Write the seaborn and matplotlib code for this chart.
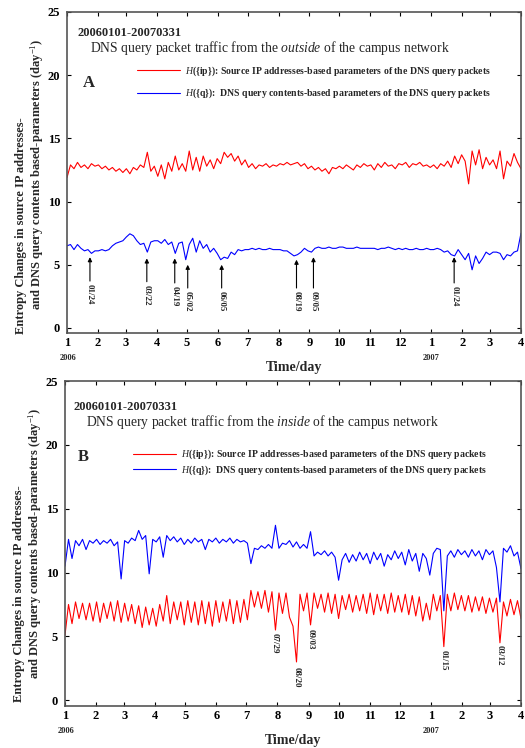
import numpy as np
import pandas as pd
import matplotlib
matplotlib.use("Agg")
import matplotlib.pyplot as plt
import seaborn as sns

# samples every 3.5 days from 2006-01-01 to 2007-03-31
a_ip = [11.9, 12.9, 12.6, 13.1, 12.7, 12.9, 12.6, 13.0, 12.8,
        12.9, 12.6, 12.8, 12.5, 12.7, 12.4, 12.6, 12.3,
        12.6, 12.2, 12.7, 12.5, 12.9, 12.7, 13.9, 12.4, 12.8,
        12.0, 12.9, 11.8, 13.1, 12.4, 13.6, 12.5, 13.0, 12.4,
        14.0, 12.5, 13.5, 12.4, 13.6, 12.8, 13.3, 12.6, 13.4,
        13.0, 13.9, 13.5, 13.8, 13.2, 13.6, 12.9, 13.3,
        12.7, 13.0, 12.6, 12.9, 12.8, 13.0, 12.7, 12.9, 12.8,
        13.0, 12.9, 13.1, 12.9, 13.0, 13.1, 12.8, 13.0, 12.6,
        12.8, 12.5, 12.7, 12.4, 12.6, 12.2, 12.7, 12.6,
        12.8, 12.6, 12.9, 12.7, 12.5, 12.9, 12.7, 13.0, 12.8,
        12.9, 12.5, 13.0, 12.7, 13.1, 12.8, 12.9, 12.6, 13.0,
        12.9, 13.1, 12.7, 13.0, 12.9, 13.1, 12.8, 12.9, 12.7,
        12.9, 12.6, 13.0, 12.8, 13.2, 12.7, 13.6, 13.0, 13.7,
        13.2, 11.4, 14.0, 12.9, 14.1, 12.6, 13.5, 12.9,
        13.3, 12.6, 14.0, 11.8, 13.2, 12.8, 13.8, 13.1, 12.6]

a_q = [6.5, 6.6, 6.2, 6.6, 6.3, 6.1, 6.2, 5.9, 6.1,
       6.1, 6.2, 6.1, 6.2, 6.5, 6.7, 6.8, 6.9,
       7.2, 7.45, 7.3, 6.9, 6.6, 6.7, 6.0, 6.8, 6.9,
       6.9, 6.7, 7.0, 6.6, 6.8, 5.9, 6.7, 6.8, 5.4,
       6.6, 7.1, 6.0, 6.9, 6.3, 6.6, 6.0, 6.3, 5.9,
       5.4, 5.6, 5.5, 6.0, 5.8, 6.2, 6.1, 6.2,
       6.2, 6.3, 6.2, 6.3, 6.2, 6.2, 6.3, 6.2, 6.2,
       6.2, 6.1, 6.1, 5.9, 5.7, 5.8, 6.0, 6.3, 6.1,
       6.0, 6.3, 6.4, 6.3, 6.3, 6.4, 6.3, 6.3,
       6.4, 6.4, 6.3, 6.3, 6.3, 6.4, 6.3, 6.3, 6.3,
       6.3, 6.3, 6.2, 6.3, 6.3, 6.4, 6.3, 6.2, 6.3,
       6.2, 6.3, 6.2, 6.2, 6.3, 6.2, 6.2, 6.3, 6.2,
       6.2, 6.3, 6.2, 6.0, 6.1, 5.8, 5.7, 6.2, 5.8,
       5.4, 5.9, 4.6, 5.7, 5.1, 5.5, 6.0, 5.8,
       6.0, 6.0, 5.9, 5.4, 5.8, 5.7, 6.0, 6.1, 7.5]

b_ip = [5.1, 7.5, 6.0, 7.7, 6.4, 7.6, 6.3, 7.6, 6.2,
        7.7, 6.1, 7.6, 6.4, 7.7, 6.2, 7.8, 6.1,
        7.6, 6.2, 7.5, 6.0, 7.4, 5.7, 7.3, 5.9, 7.2,
        5.8, 7.5, 6.2, 8.2, 6.0, 7.7, 6.3, 7.7, 5.9,
        7.8, 6.1, 7.7, 5.9, 7.8, 6.0, 7.7, 5.8, 7.8,
        6.1, 7.7, 6.2, 7.9, 6.0, 7.8, 6.1, 7.9,
        6.3, 8.6, 7.3, 8.5, 7.2, 8.6, 6.9, 8.5, 5.5,
        8.4, 6.8, 8.4, 6.5, 5.8, 3.0, 8.3, 7.0, 8.4,
        5.9, 8.4, 7.2, 8.3, 6.9, 8.4, 6.8, 8.3,
        6.4, 8.2, 7.1, 8.3, 6.9, 8.2, 7.0, 8.3, 6.8,
        8.4, 6.7, 8.3, 7.0, 8.3, 6.8, 8.4, 6.9, 8.2,
        6.9, 8.3, 6.7, 8.2, 6.6, 8.1, 6.2, 7.6, 6.3,
        8.3, 7.0, 8.2, 4.2, 8.3, 7.0, 8.4, 7.1, 8.2,
        7.0, 8.2, 6.9, 8.1, 7.0, 8.1, 6.8, 8.0,
        6.9, 8.0, 4.5, 7.7, 6.6, 7.9, 6.7, 7.8, 6.4]

b_q = [10.5, 12.6, 11.1, 12.5, 12.1, 12.6, 11.8, 12.5, 12.3,
       12.6, 12.2, 12.5, 12.3, 12.6, 12.1, 12.4, 9.5,
       12.5, 12.3, 12.7, 12.5, 13.3, 12.6, 12.9, 9.9, 12.6,
       12.4, 12.8, 11.2, 12.9, 12.5, 12.8, 12.4, 12.7, 12.2,
       12.6, 12.3, 12.7, 12.4, 12.6, 11.8, 12.6, 12.4, 12.7,
       12.3, 12.6, 12.4, 12.7, 12.3, 12.6, 12.4, 12.5,
       12.3, 10.7, 11.9, 11.8, 12.1, 11.9, 12.2, 11.9, 13.7,
       11.9, 12.3, 12.2, 12.5, 12.0, 12.4, 11.9, 12.2, 11.9,
       13.2, 11.3, 11.6, 11.4, 11.7, 11.3, 11.6, 11.2,
       9.4, 11.0, 11.5, 10.8, 11.4, 10.9, 11.6, 11.0, 11.5,
       10.7, 11.6, 11.0, 11.5, 10.5, 11.4, 11.0, 11.7, 11.1,
       11.6, 10.6, 11.8, 10.9, 11.5, 10.1, 11.5, 11.1, 9.8,
       11.5, 11.9, 11.8, 7.0, 11.3, 11.7, 11.2, 11.8, 11.4,
       11.7, 11.2, 11.8, 11.3, 11.7, 11.0, 11.8, 11.4,
       11.7, 10.4, 7.7, 11.9, 11.6, 12.1, 11.3, 11.6, 10.3]

month_start_days = [0, 31, 59, 90, 120, 151, 181, 212, 243, 273, 304, 334, 365, 396, 424, 455]
month_labels = ["1", "2", "3", "4", "5", "6", "7", "8", "9", "10", "11", "12", "1", "2", "3", "4"]

# arrows in panel A: (label, day, tip value, text top value)
a_events = [("01/24", 23, 5.6, 3.45), ("03/22", 80, 5.5, 3.4), ("04/19", 108, 5.5, 3.3),
            ("05/02", 121, 5.0, 2.9), ("06/05", 155, 5.0, 2.9), ("08/19", 230, 5.4, 2.9),
            ("09/05", 247, 5.6, 2.9), ("01/24", 388, 5.6, 3.3)]
# dates in panel B: (label, day, text top value)
b_events = [("07/29", 209, 5.25), ("08/20", 231, 2.6), ("09/03", 245, 5.6),
            ("01/15", 378, 3.9), ("03/12", 434, 4.3)]

lab_ip = r"$\mathit{H}$({ip}): Source IP addresses-based parameters of the DNS query packets"
lab_q = r"$\mathit{H}$({q}):  DNS query contents-based parameters of the DNS query packets"

sns.set_style("ticks")
plt.rcParams["font.family"] = ["Liberation Serif", "DejaVu Serif"]
plt.rcParams["mathtext.fontset"] = "custom"
plt.rcParams["mathtext.rm"] = "Liberation Serif"
plt.rcParams["mathtext.it"] = "Liberation Serif:italic"
plt.rcParams["mathtext.bf"] = "Liberation Serif:bold"

fig = plt.figure(figsize=(5.25, 7.48), dpi=100)
axA = fig.add_axes([67 / 525, 1 - 333 / 748, 454 / 525, 321 / 748])
axB = fig.add_axes([65 / 525, 42 / 748, 456 / 525, 325 / 748])


def draw_panel(ax, ip_vals, q_vals, where, letter, ylo, leg_xy, leg_space, title_xy):
    days = np.arange(len(ip_vals)) * 3.5
    df = pd.DataFrame({
        "day": np.concatenate([days, days]),
        "value": ip_vals + q_vals,
        "series": [lab_ip] * len(ip_vals) + [lab_q] * len(q_vals),
    })
    sns.lineplot(data=df, x="day", y="value", hue="series",
                 palette={lab_ip: "red", lab_q: "blue"}, lw=0.8,
                 errorbar=None, ax=ax)
    ax.set_xlim(0, 455)
    ax.set_ylim(ylo, 25)
    ax.set_xticks(month_start_days)
    ax.set_xticklabels(month_labels)
    ax.set_yticks([0, 5, 10, 15, 20, 25])
    ax.tick_params(direction="in", top=True, right=True, length=3, width=0.8,
                   labelsize=9, colors="black")
    ax.tick_params(axis="x", pad=3)
    ax.tick_params(axis="y", pad=5)
    for lab in ax.get_xticklabels() + ax.get_yticklabels():
        lab.set_fontweight("bold")
    for sp in ax.spines.values():
        sp.set_color("#555555")
        sp.set_linewidth(1.2)
    ax.set_ylabel("")
    ax.set_xlabel("Time/day", fontsize=10, fontweight="bold", va="center")
    ax.xaxis.set_label_coords(0.5, -0.106)

    for yr, d in [("2006", 1), ("2007", 365)]:
        ax.text(d, -0.078, yr, transform=ax.get_xaxis_transform(), ha="center",
                va="center", fontsize=6, fontweight="bold")

    handles, labels = ax.get_legend_handles_labels()
    ax.legend(handles, labels, loc="upper left", bbox_to_anchor=leg_xy, frameon=False,
              borderpad=0, borderaxespad=0, handlelength=4.4, handletextpad=0.5,
              labelspacing=leg_space, prop={"size": 7, "weight": "bold"})

    ax.text(title_xy[0], title_xy[1], "20060101-20070331", transform=ax.transAxes,
            ha="left", va="center", fontsize=9, fontweight="bold")
    ax.text(title_xy[0] + 0.027, title_xy[1] - 0.047,
            "DNS query packet traffic from the $\\mathit{" + where + "}$ of the campus network",
            transform=ax.transAxes, ha="left", va="center", fontsize=9.8)
    ax.text(title_xy[0] + 0.01, title_xy[1] - 0.155, letter, transform=ax.transAxes,
            ha="left", va="center", fontsize=12, fontweight="bold")


draw_panel(axA, a_ip, a_q, "outside", "A", -0.4, (0.154, 0.838), 0.95, (0.024, 0.935))
draw_panel(axB, b_ip, b_q, "inside", "B", -0.45, (0.149, 0.794), 0.2, (0.018, 0.92))

for lab, d, tip, top in a_events:
    axA.annotate(lab, xy=(d, tip), xytext=(d, top), rotation=270, ha="center", va="top",
                 fontsize=6.5, fontweight="bold",
                 arrowprops=dict(arrowstyle="-|>", color="black", lw=0.8,
                                 mutation_scale=6, shrinkA=0, shrinkB=0))

for lab, d, top in b_events:
    axB.text(d, top, lab, rotation=270, ha="center", va="top",
             fontsize=6.5, fontweight="bold")

ylab1 = "Entropy Changes in source IP addresses-"
ylab2 = "and DNS query contents based-parameters (day$^{-1}$)"
for ax, c1, c2 in [(axA, 0.336, 0.495), (axB, 0.345, 0.5)]:
    ax.text(-0.101, c1, ylab1, transform=ax.transAxes, rotation=90, ha="center",
            va="center", fontsize=9, fontweight="bold")
    ax.text(-0.066, c2, ylab2, transform=ax.transAxes, rotation=90, ha="center",
            va="center", fontsize=9, fontweight="bold")

fig.savefig("out.png", dpi=100)
